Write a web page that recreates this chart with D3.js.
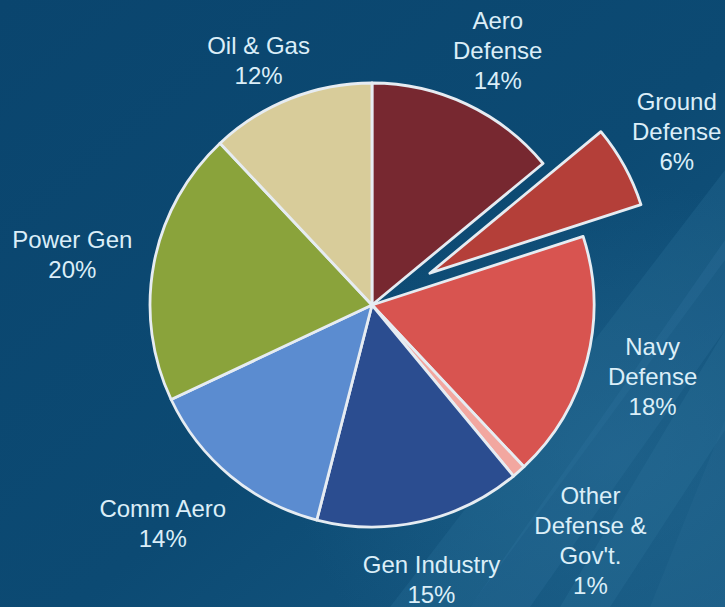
<!DOCTYPE html>
<html>
<head>
<meta charset="utf-8">
<script src="https://cdn.jsdelivr.net/npm/d3@7"></script>
<style>
  html, body { margin: 0; padding: 0; background: #0c4a72; }
  svg { display: block; }
</style>
</head>
<body>
<svg id="chart" width="725" height="607"></svg>
<script>
// ---- data ----
const categories = ["Aero Defense", "Ground Defense", "Navy Defense", "Other Defense & Gov't.", "Gen Industry", "Comm Aero", "Power Gen", "Oil & Gas"];
const values = [14, 6, 18, 1, 15, 14, 20, 12];
const labelLines = [["Aero", "Defense"], ["Ground", "Defense"], ["Navy", "Defense"], ["Other", "Defense &", "Gov't."], ["Gen Industry"], ["Comm Aero"], ["Power Gen"], ["Oil & Gas"]];
const exploded = ["Ground Defense"];

// ---- styles / layout ----
const colors = ["#772830", "#b43f39", "#d85450", "#f2a7a0", "#2b4d90", "#5b8cd0", "#8aa33b", "#d8cc9a"];
const W = 725, H = 607;
const cx = 372, cy = 305, R = 222, explodeOffset = 66;
const labelRx = 300, labelRy = 278, lineH = 30;
const labelNudge = {"Aero Defense": [-2, -3], "Ground Defense": [-16, -8], "Navy Defense": [-10, 2], "Other Defense & Gov't.": [20, 27], "Gen Industry": [-6, 3], "Comm Aero": [-18, 4], "Power Gen": [-5, 2], "Oil & Gas": [-3, 14]};

const svg = d3.select("#chart");
const defs = svg.append("defs");

// background
const bg = defs.append("linearGradient").attr("id", "bg").attr("x1", 0).attr("y1", 0).attr("x2", 1).attr("y2", 1);
bg.append("stop").attr("offset", "0%").attr("stop-color", "#0a456e");
bg.append("stop").attr("offset", "55%").attr("stop-color", "#0c4a73");
bg.append("stop").attr("offset", "100%").attr("stop-color", "#175a83");
svg.append("rect").attr("width", W).attr("height", H).attr("fill", "url(#bg)");

// diagonal streaks lower right
const streaks = svg.append("g");
const streakDefs = [
  {p: [[725, 170], [725, 260], [470, 607], [390, 607]], c: "#2a6f99", o: 0.3},
  {p: [[725, 240], [725, 330], [530, 607], [470, 607]], c: "#3479a2", o: 0.25},
  {p: [[725, 330], [725, 430], [610, 607], [560, 607]], c: "#2f739c", o: 0.3},
  {p: [[725, 420], [725, 607], [650, 607]], c: "#2a6d95", o: 0.25}
];
streakDefs.forEach(s => {
  streaks.append("path").attr("d", d3.line()(s.p) + "Z").attr("fill", s.c).attr("opacity", s.o);
});
const glow = defs.append("radialGradient").attr("id", "glow").attr("cx", "85%").attr("cy", "75%").attr("r", "45%");
glow.append("stop").attr("offset", "0%").attr("stop-color", "#2a6f98").attr("stop-opacity", 0.45);
glow.append("stop").attr("offset", "100%").attr("stop-color", "#2a6f98").attr("stop-opacity", 0);
svg.append("rect").attr("width", W).attr("height", H).attr("fill", "url(#glow)");

const pie = d3.pie().sort(null).value(d => d.v);
const data = categories.map((c, i) => ({c, v: values[i], i}));
const arcs = pie(data);
const arc = d3.arc().innerRadius(0).outerRadius(R);

const g = svg.append("g").attr("transform", `translate(${cx},${cy})`);

function offsetOf(d) {
  if (!exploded.includes(d.data.c)) return [0, 0];
  const a = (d.startAngle + d.endAngle) / 2;
  return [Math.sin(a) * explodeOffset, -Math.cos(a) * explodeOffset];
}

const slices = g.selectAll("g.slice").data(arcs).join("g").attr("class", "slice")
  .attr("transform", d => { const o = offsetOf(d); return `translate(${o[0]},${o[1]})`; });

slices.append("path").attr("d", arc).attr("fill", d => colors[d.data.i]);
slices.append("path").attr("d", arc).attr("fill", "none")
  .attr("stroke", "#e6ecf2").attr("stroke-width", 2.8).attr("stroke-linejoin", "round");

// labels
const lab = svg.append("g")
  .attr("font-family", "'Liberation Sans', Arial, sans-serif")
  .attr("font-size", 24)
  .attr("fill", "#dbeef8")
  .attr("text-anchor", "middle");

arcs.forEach(d => {
  const a = (d.startAngle + d.endAngle) / 2;
  const o = offsetOf(d);
  const n = labelNudge[d.data.c] || [0, 0];
  const x = cx + labelRx * Math.sin(a) + o[0] + n[0];
  const y = cy - labelRy * Math.cos(a) + o[1] + n[1];
  const lines = labelLines[d.data.i].concat([d.data.v + "%"]);
  const t = lab.append("text").attr("x", x).attr("y", y);
  const top = -(lines.length - 1) / 2 * lineH;
  lines.forEach((ln, k) => {
    t.append("tspan").attr("x", x).attr("y", y + top + k * lineH).attr("dy", "0.35em").text(ln);
  });
});
</script>
</body>
</html>
